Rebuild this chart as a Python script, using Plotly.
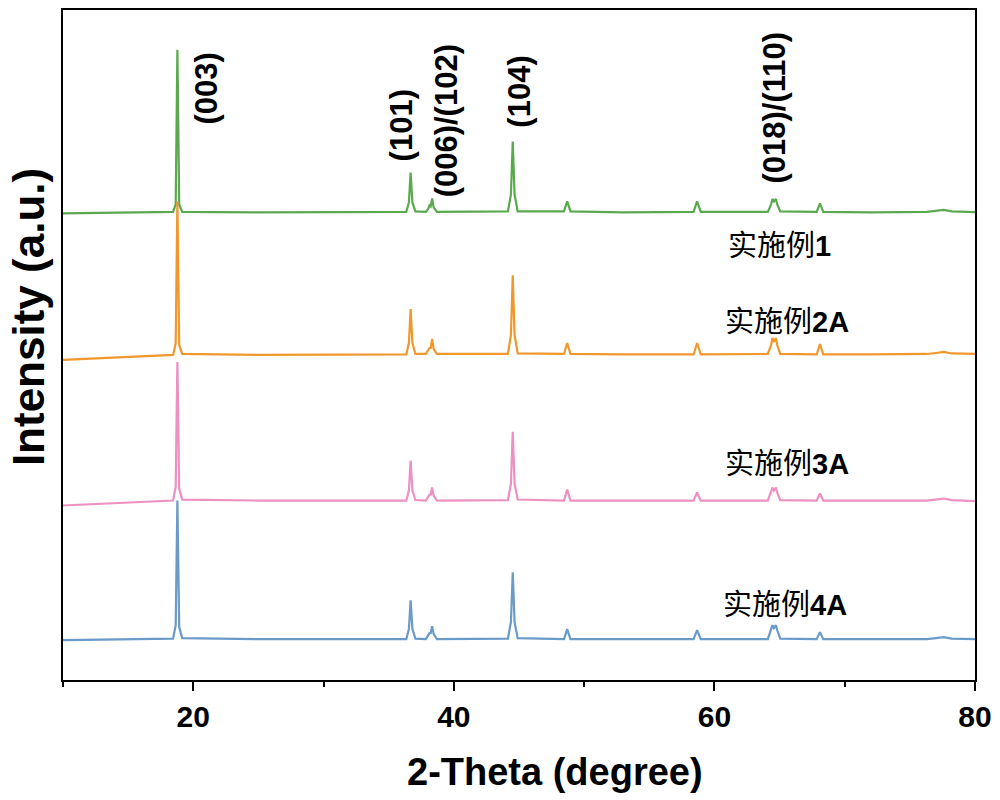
import plotly.graph_objects as go

# 2-theta grid (degrees), shared by all patterns
two_theta = [10.0, 15.0, 18.45, 18.65, 18.78, 18.92, 19.15, 25.0, 30.0,
             36.35, 36.55, 36.68, 36.82, 37.05, 37.85, 38.05, 38.13, 38.22,
             38.33, 38.45, 38.7, 44.15, 44.38, 44.52, 44.66, 44.9, 48.45,
             48.7, 48.95, 53.0, 58.4, 58.67, 58.95, 64.1, 64.35, 64.45,
             64.57, 64.72, 64.82, 65.05, 67.85, 68.1, 68.35, 72.0, 76.3,
             77.0, 77.6, 78.2, 80.0]

# intensities (a.u.), per sample
int_ex1 = [-1, -0.5, 0.5, 8, 163, 8, 0.5, 0, 0,
           0.5, 10, 40, 10, 1, 0.5, 4, 7, 6,
           14, 5, 0.5, 1, 18, 71, 18, 1, 1,
           11, 1, 0, 0.5, 11, 0.5, 0.5, 8, 13.5,
           11, 13.5, 8, 1, 0.5, 9, 0.5, 0, 0.5,
           1.5, 2.5, 1, 0.3]
int_ex2a = [-5, -2, 0, 12, 154, 10, 1, 0, 0.5,
            0.5, 12, 46, 12, 1, 1, 5, 7, 7,
            16, 6, 1, 1, 20, 80, 20, 1.5, 1,
            12, 1, 0.5, 0.5, 12, 0.5, 1, 10, 17,
            13, 17, 10, 1, 0.5, 11, 0.5, 0.5, 1,
            2, 3, 1.5, 1]
int_ex3a = [-5, -2, 0, 14, 139, 12, 1, 0, 0,
            0, 10, 40, 10, 0.5, 0, 4, 6, 6,
            13, 5, 0, 0.5, 17, 69, 17, 1, 0,
            11, 0, 0, 0, 8, 0, 0, 8, 13,
            10, 13, 8, 0.5, 0, 7, 0, 0, 0,
            1, 2, 0.5, -0.5]
int_ex4a = [-1, 0, 0.5, 14, 139, 12, 1, 0, 0,
            0, 10, 39, 10, 0.5, 0, 4, 6, 6,
            13, 5, 0, 0.5, 17, 67, 17, 1, 0,
            10, 0, 0, 0, 9, 0, 0, 9, 14,
            11, 14, 9, 0.5, 0, 7, 0, 0, 0,
            1, 2, 0.5, 0]

series_names = ["实施例1", "实施例2A", "实施例3A", "实施例4A"]
series_data = [int_ex1, int_ex2a, int_ex3a, int_ex4a]
stack_offsets = [469, 326, 180, 41]
colors = ["#5aa94e", "#f0982c", "#ec91c1", "#6a9ac8"]

peak_labels = ["(003)", "(101)", "(006)/(102)", "(104)", "(018)/(110)"]

fig = go.Figure()
for name, ys, off, c in zip(series_names, series_data, stack_offsets, colors):
    fig.add_trace(go.Scatter(
        x=two_theta, y=[v + off for v in ys], mode="lines", name=name,
        line=dict(color=c, width=2.2), showlegend=False))

BF = "Liberation Sans, Arial, sans-serif"

# peak index labels (rotated)
peak_pos = [(21.03, 593), (36.0, 556), (39.45, 561), (45.07, 590), (64.64, 574)]
for lab, (px, py) in zip(peak_labels, peak_pos):
    fig.add_annotation(x=px, y=py, xref="x", yref="y", text="<b>%s</b>" % lab,
                       textangle=-90, showarrow=False,
                       font=dict(family=BF, size=31, color="black"),
                       xanchor="center", yanchor="middle")

# sample labels
label_pos = [(65.0, 438), (65.6, 362), (65.6, 220), (65.4, 78)]
for name, (px, py) in zip(series_names, label_pos):
    cn, tail = name[:3], name[3:]
    fig.add_annotation(
        x=px, y=py, xref="x", yref="y",
        text=cn + '<span style="font-family:Liberation Sans;font-weight:bold">%s</span>' % tail,
        showarrow=False, font=dict(family="Noto Sans CJK SC", size=29, color="black"),
        xanchor="center", yanchor="middle")

# axis titles
fig.add_annotation(x=0.54, y=-0.137, xref="paper", yref="paper",
                   text="<b>2-Theta (degree)</b>", showarrow=False,
                   font=dict(family=BF, size=38, color="black"),
                   xanchor="center", yanchor="middle")
fig.add_annotation(x=-0.037, y=0.542, xref="paper", yref="paper",
                   text="<b>Intensity (a.u.)</b>", showarrow=False, textangle=-90,
                   font=dict(family=BF, size=44, color="black"),
                   xanchor="center", yanchor="middle")

fig.update_layout(
    width=1000, height=800,
    margin=dict(l=63, r=25, t=8, b=120),
    paper_bgcolor="white", plot_bgcolor="white",
    xaxis=dict(range=[10, 80], tick0=0, dtick=20, ticks="outside", ticklen=9,
               tickwidth=2, tickcolor="black", showline=True, mirror=True,
               linecolor="black", linewidth=2, showgrid=False, zeroline=False,
               tickfont=dict(family=BF, size=30, color="black"),
               tickprefix="<b>", ticksuffix="</b>",
               minor=dict(dtick=10, tick0=0, ticks="outside", ticklen=5,
                          tickwidth=2, tickcolor="black", showgrid=False)),
    yaxis=dict(range=[0, 672], showticklabels=False, ticks="", showline=True,
               mirror=True, linecolor="black", linewidth=2, showgrid=False,
               zeroline=False),
)

fig.write_html("out.html")
